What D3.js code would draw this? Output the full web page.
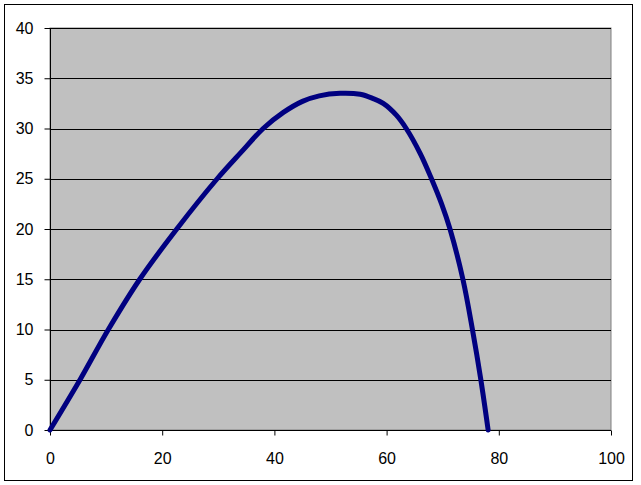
<!DOCTYPE html>
<html>
<head>
<meta charset="utf-8">
<script src="https://cdn.jsdelivr.net/npm/d3@7"></script>
<style>
  html, body { margin: 0; padding: 0; background: #fff; }
  svg { display: block; }
  text { font-family: Arial, "Liberation Sans", sans-serif; }
</style>
</head>
<body>
<svg id="chart" width="641" height="485"></svg>
<script>
// Data
const xValues = [0, 5.35, 10.4, 16.0, 22.6, 29.8, 34.0, 38.0, 41.6, 45.0, 48.0, 51.7, 55.3, 57.5, 59.4, 61.7, 63.5, 66.0, 68.0, 69.8, 71.3, 73.6, 75.3, 76.8, 78.1];
const yValues = [0, 5, 10, 15, 20, 25, 27.6, 30, 31.6, 32.7, 33.25, 33.5, 33.4, 33.0, 32.5, 31.35, 30, 27.5, 25, 22.5, 20, 15, 10, 5, 0];
const xTicks = [0, 20, 40, 60, 80, 100];
const yTicks = [0, 5, 10, 15, 20, 25, 30, 35, 40];

(function () {
const svg = d3.select("#chart");
const pL = 50, pR = 611, pT = 28, pB = 430;

const x = d3.scaleLinear().domain([0, 100]).range([pL, pR]);
const y = d3.scaleLinear().domain([0, 40]).range([pB, pT]);

// outer frame
svg.append("rect").attr("x", 4.5).attr("y", 4.5).attr("width", 628).attr("height", 476)
  .attr("fill", "#fff").attr("stroke", "#000").attr("stroke-width", 1);

// plot area
svg.append("rect").attr("x", pL).attr("y", pT).attr("width", pR - pL).attr("height", pB - pT)
  .attr("fill", "#c0c0c0").attr("stroke", "#808080").attr("stroke-width", 1);

// gridlines
svg.append("g").selectAll("line").data(yTicks.filter(d => d > 0)).join("line")
  .attr("x1", pL).attr("x2", pR)
  .attr("y1", d => Math.round(y(d)) + 0.5).attr("y2", d => Math.round(y(d)) + 0.5)
  .attr("stroke", "#000").attr("stroke-width", 1);

// axes
const yAxis = d3.axisLeft(y).tickValues(yTicks).tickSize(6).tickPadding(11).tickFormat(d3.format("d"));
const xAxis = d3.axisBottom(x).tickValues(xTicks).tickSize(5).tickPadding(17).tickFormat(d3.format("d"));

const gy = svg.append("g").attr("transform", `translate(${pL + 0.5},0)`).call(yAxis);
const gx = svg.append("g").attr("transform", `translate(0,${pB + 0.5})`).call(xAxis);
[gx, gy].forEach(g => {
  g.selectAll(".domain").attr("stroke", "#000");
  g.selectAll(".tick line").attr("stroke", "#000");
  g.selectAll("text").attr("font-size", 16).attr("fill", "#000")
    .attr("font-family", "Arial, 'Liberation Sans', sans-serif");
});
gy.select(".domain").attr("d", `M0,${pT}V${pB}`);
gx.select(".domain").attr("d", `M${pL},0H${pR}`);

// curve
const pts = xValues.map((v, i) => [v, yValues[i]]);
const line = d3.line().x(d => x(d[0])).y(d => y(d[1])).curve(d3.curveCatmullRom.alpha(0.5));
svg.append("path").datum(pts).attr("d", line)
  .attr("fill", "none").attr("stroke", "#000080").attr("stroke-width", 5)
  .attr("stroke-linejoin", "round").attr("stroke-linecap", "round");
})();
</script>
</body>
</html>
